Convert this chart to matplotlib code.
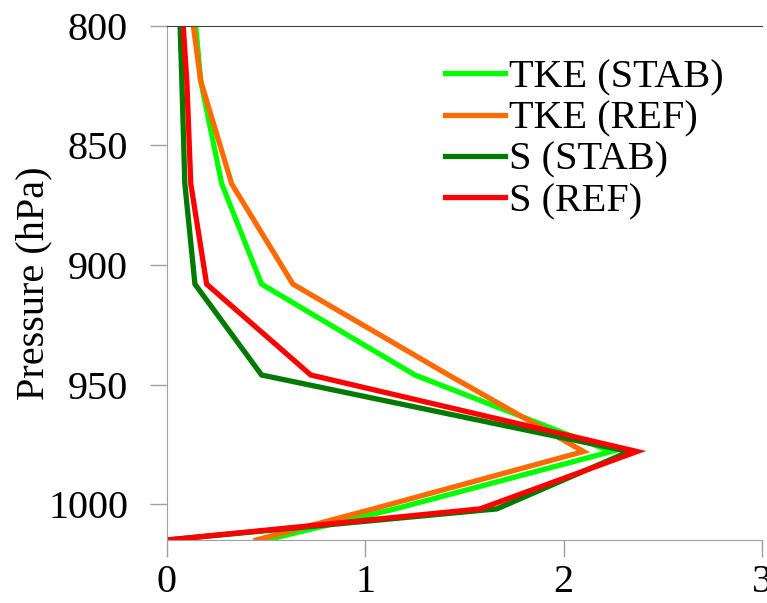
import matplotlib
matplotlib.use("Agg")
import matplotlib.pyplot as plt

plt.rcParams['font.family'] = ['Liberation Serif', 'DejaVu Serif']

# pressure levels (hPa) and profiles
levels = [800, 823, 866, 908, 946, 978, 1002, 1015]
tke_stab = [0.145, 0.17, 0.276, 0.477, 1.25, 2.24, 1.15, 0.50]
tke_ref = [0.133, 0.17, 0.326, 0.635, 1.42, 2.10, 1.04, 0.45]
s_stab = [0.066, 0.075, 0.09, 0.141, 0.477, 2.33, 1.663, 0.0]
s_ref = [0.082, 0.10, 0.12, 0.20, 0.725, 2.37, 1.578, 0.0]

labels = ['TKE (STAB)', 'TKE (REF)', 'S (STAB)', 'S (REF)']
colors = ['#00FF00', '#FF6A00', '#007A00', '#FF0000']

fig = plt.figure(figsize=(7.67, 6.03), dpi=100)
ax = fig.add_axes([0.2177, 0.1045, 0.7758, 0.8525])

for vals, lab, c in zip([tke_stab, tke_ref, s_stab, s_ref], labels, colors):
    ax.plot(vals, levels, color=c, lw=3.8, label=lab, solid_joinstyle='miter')

ax.set_xlim(0, 3)
ax.set_ylim(1015, 800)
ax.set_xticks([0, 1, 2, 3])
ax.set_yticks([800, 850, 900, 950, 1000])
ax.tick_params(axis='both', labelsize=29, length=12, width=1, color='#A0A0A0',
               direction='out')
ax.tick_params(axis='y', pad=16)
ax.tick_params(axis='x', pad=5)

ax.spines['right'].set_visible(False)
ax.spines['left'].set_color('#A0A0A0')
ax.spines['bottom'].set_color('#A0A0A0')
ax.spines['top'].set_color('#404040')

ax.set_ylabel('Pressure (hPa)', fontsize=29)
ax.yaxis.set_label_coords(-0.193, 0.5)

ax.legend(loc='upper right', bbox_to_anchor=(0.983, 0.99), frameon=False,
          fontsize=29, handlelength=1.5, handletextpad=0.1, labelspacing=0.1,
          borderaxespad=0.3)

fig.savefig('out.png', dpi=100)
